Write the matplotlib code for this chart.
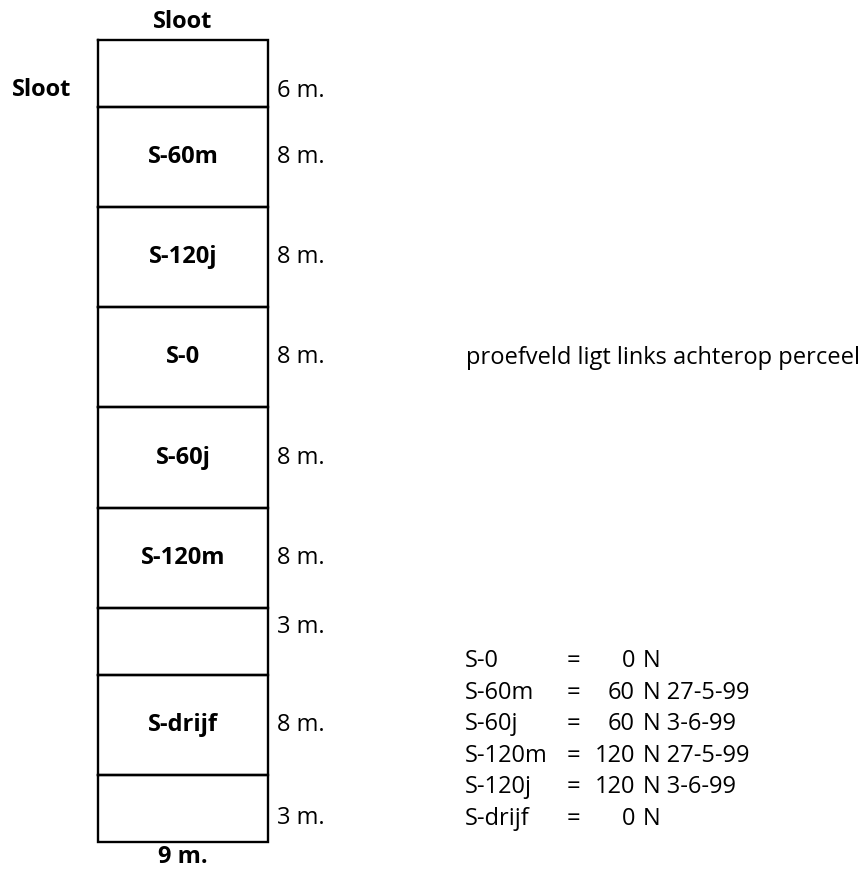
import matplotlib.pyplot as plt
import numpy as np

# strook-indeling van het proefveld (van boven naar onder)
plots = ['', 'S-60m', 'S-120j', 'S-0', 'S-60j', 'S-120m', '', 'S-drijf', '']
lengths = ['6 m.', '8 m.', '8 m.', '8 m.', '8 m.', '8 m.', '3 m.', '8 m.', '3 m.']
row_units = [2, 3, 3, 3, 3, 3, 2, 3, 2]  # getekende hoogte (niet op schaal)
len_pos = [0.76, 0.5, 0.5, 0.5, 0.5, 0.5, 0.28, 0.5, 0.65]

# legenda
leg_names = ['S-0', 'S-60m', 'S-60j', 'S-120m', 'S-120j', 'S-drijf']
leg_n = ['0', '60', '60', '120', '120', '0']
leg_dates = ['', '27-5-99', '3-6-99', '27-5-99', '3-6-99', '']

note = 'proefveld ligt links achterop perceel'

plt.rcParams['font.family'] = ['Open Sans', 'DejaVu Sans']

fig = plt.figure(figsize=(8.68, 8.72), dpi=100)
ax = fig.add_axes([0, 0, 1, 1])
ax.set_xlim(0, 868)
ax.set_ylim(872, 0)
ax.axis('off')

x0, x1 = 98, 268
top = 40
unit = 33.4
edges = top + np.concatenate([[0], np.cumsum(row_units)]) * unit

fs = 17
for i, name in enumerate(plots):
    y_a, y_b = edges[i], edges[i + 1]
    ax.plot([x0, x1, x1, x0, x0], [y_a, y_a, y_b, y_b, y_a], color='black', lw=1.7,
            solid_joinstyle='miter')
    if name:
        ax.text((x0 + x1) / 2, (y_a + y_b) / 2, name, ha='center', va='center',
                fontsize=fs, fontweight='bold')
    ax.text(x1 + 9, y_a + (y_b - y_a) * len_pos[i], lengths[i], ha='left', va='center',
            fontsize=fs)

ax.text((x0 + x1) / 2, 22, 'Sloot', ha='center', va='center', fontsize=fs, fontweight='bold')
ax.text(42, 90, 'Sloot', ha='center', va='center', fontsize=fs, fontweight='bold')
ax.text((x0 + x1) / 2, 857, '9 m.', ha='center', va='center', fontsize=fs, fontweight='bold')

ax.text(466, 358, note, ha='left', va='center', fontsize=fs)

ly = 661
for i in range(len(leg_names)):
    y = ly + i * 31.5
    ax.text(465, y, leg_names[i], ha='left', va='center', fontsize=fs)
    ax.text(573, y, '=', ha='center', va='center', fontsize=fs)
    ax.text(635, y, leg_n[i], ha='right', va='center', fontsize=fs)
    ax.text(643, y, 'N ' + leg_dates[i], ha='left', va='center', fontsize=fs)

fig.savefig('out.png', dpi=100)
